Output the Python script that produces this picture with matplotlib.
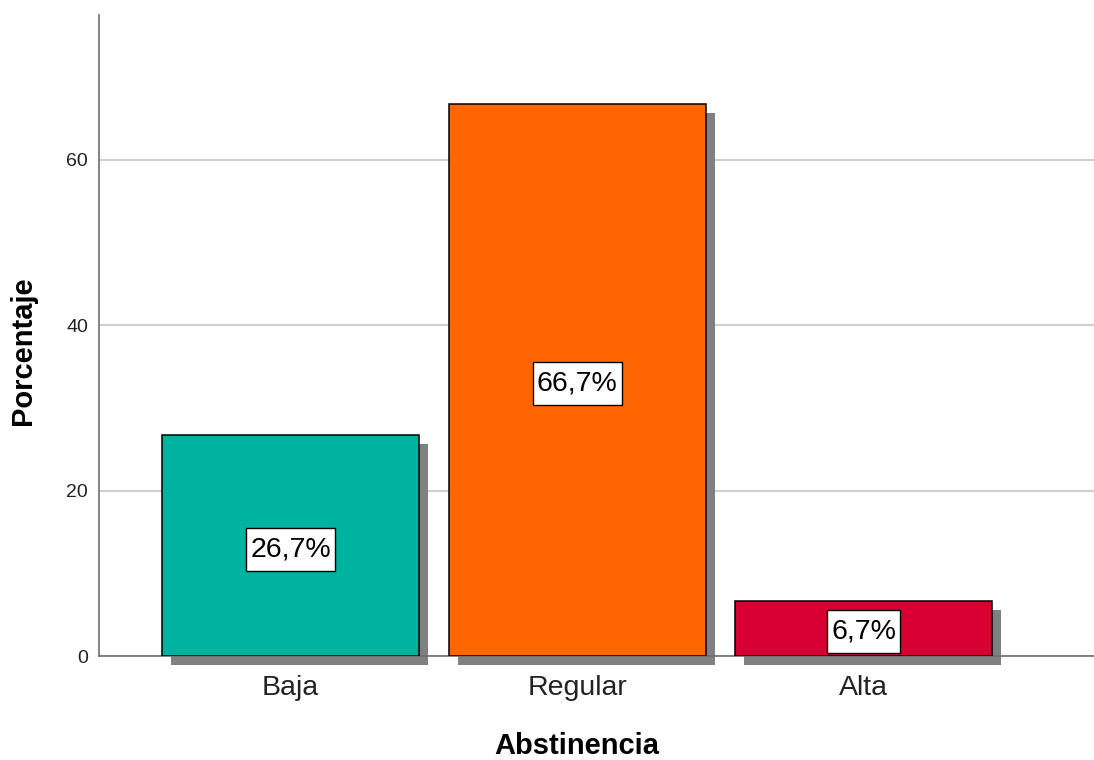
import matplotlib
matplotlib.use("Agg")
import matplotlib.pyplot as plt
from matplotlib.path import Path
from matplotlib.transforms import ScaledTranslation

plt.rcParams['font.family'] = ['Liberation Sans', 'DejaVu Sans']

# datos
categorias = ['Baja', 'Regular', 'Alta']
porcentajes = [26.7, 66.7, 6.7]
etiquetas = ['26,7%', '66,7%', '6,7%']
colores = ['#00B3A0', '#FF6600', '#D60032']


def caja(x0, y0, width, height, mutation_size):
    # recuadro con más margen vertical que horizontal
    px = 0.14 * mutation_size
    py = 0.30 * mutation_size
    x0, y0 = x0 - px, y0 - py
    x1, y1 = x0 + width + 2 * px, y0 + height + 2 * py
    return Path([(x0, y0), (x1, y0), (x1, y1), (x0, y1), (x0, y0)],
                closed=True)


fig = plt.figure(figsize=(10.94, 7.6), dpi=100)
ax = fig.add_axes([0.0905, 0.1368, 0.9095, 0.8435])

x = list(range(len(categorias)))
ancho = 0.897

# sombra de las barras
sombra = ax.transData + ScaledTranslation(9 / 100, -9 / 100, fig.dpi_scale_trans)
ax.bar(x, porcentajes, width=ancho, color='#808080', transform=sombra,
       clip_on=False, zorder=2)
ax.bar(x, porcentajes, width=ancho, color=colores, edgecolor='black',
       linewidth=1.1, zorder=3)

desplaz = ax.transData + ScaledTranslation(0, -3.5 / 100, fig.dpi_scale_trans)
for xi, v, t in zip(x, porcentajes, etiquetas):
    ax.text(xi, v / 2, t, ha='center', va='center', fontsize=20.5, zorder=4,
            transform=desplaz,
            bbox=dict(boxstyle=caja, facecolor='white',
                      edgecolor='black', linewidth=1.0))

ax.set_xlim(-0.668, 2.803)
ax.set_ylim(0, 77.5)
ax.set_yticks([0, 20, 40, 60])
ax.set_xticks(x)
ax.set_xticklabels(categorias, fontsize=20.5)
ax.tick_params(axis='y', labelsize=14, length=0, pad=8, labelcolor='#222222')
ax.tick_params(axis='x', length=0, pad=14, labelcolor='#222222')

ax.yaxis.grid(True, color='#CFCFCF', linewidth=1.5, zorder=0)
ax.set_axisbelow(True)

for lado in ['top', 'right']:
    ax.spines[lado].set_visible(False)
for lado in ['left', 'bottom']:
    ax.spines[lado].set_color('#6E6E6E')
    ax.spines[lado].set_linewidth(1.2)

ax.set_xlabel('Abstinencia', fontsize=21, fontweight='bold')
ax.xaxis.set_label_coords(0.480, -0.141)
ax.xaxis.label.set_va('center')
ax.set_ylabel('Porcentaje', fontsize=21, fontweight='bold')
ax.yaxis.set_label_coords(-0.0759, 0.477)
ax.yaxis.label.set_va('center')

fig.savefig('out.png', dpi=100)
